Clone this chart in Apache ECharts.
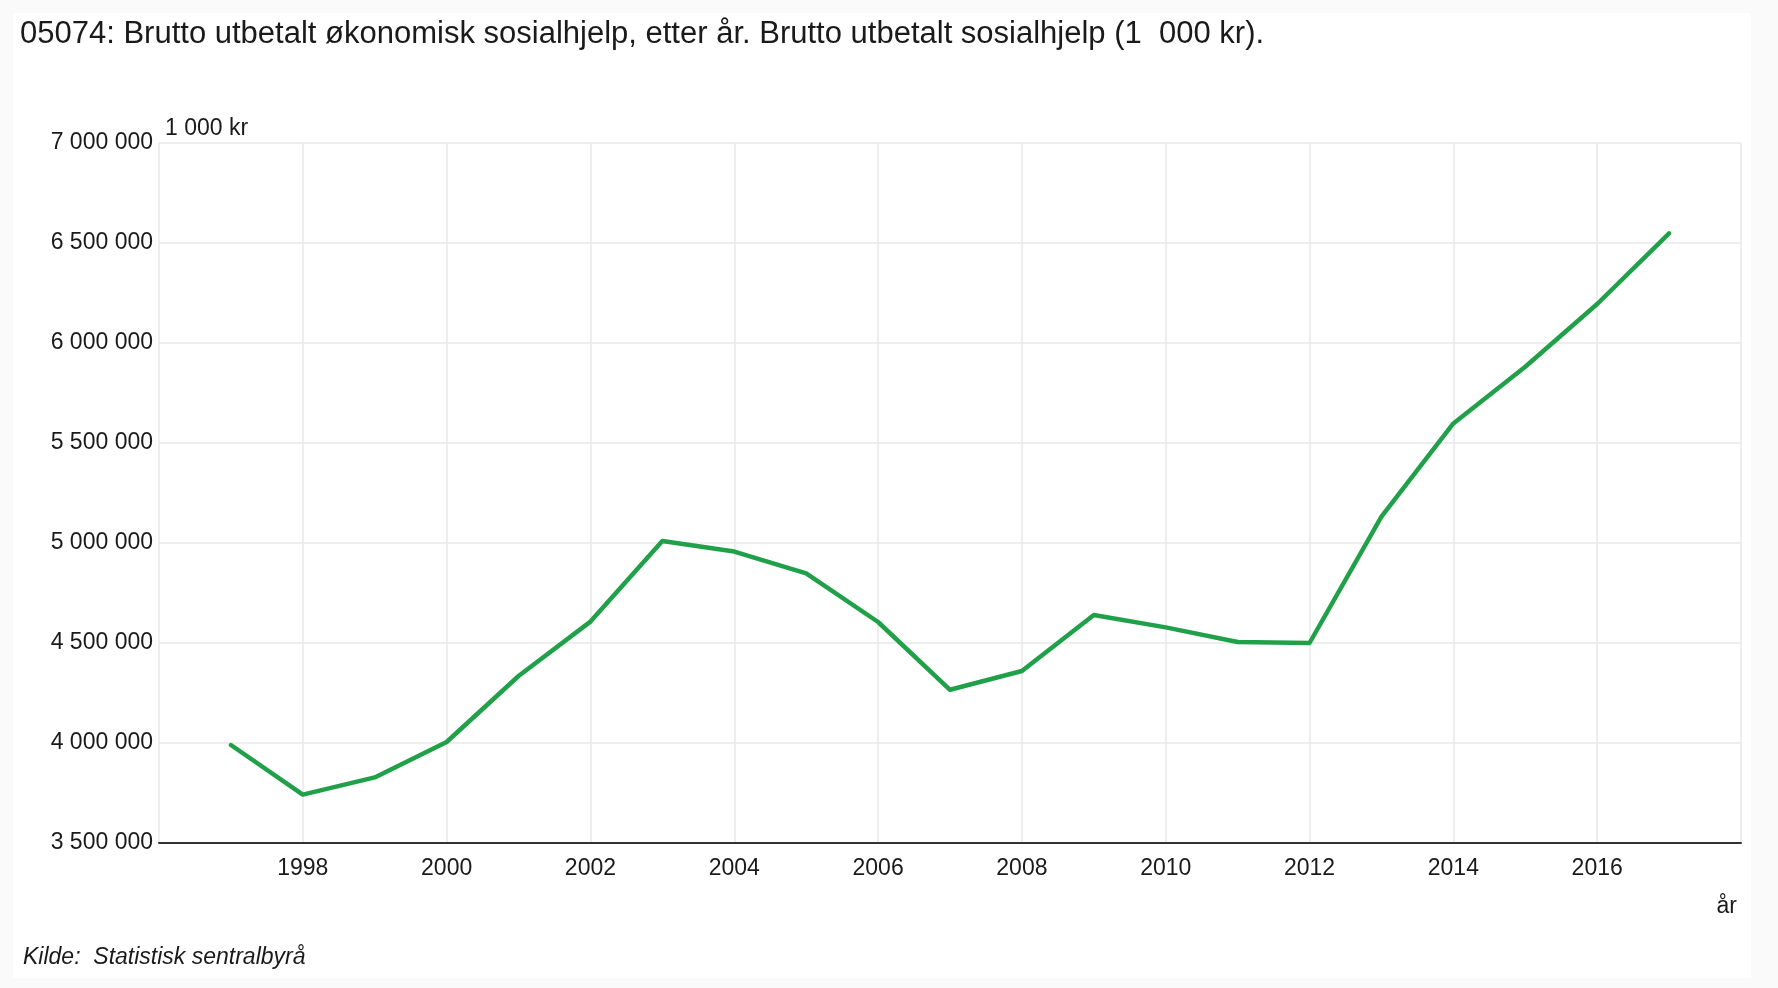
<!DOCTYPE html>
<html>
<head>
<meta charset="utf-8">
<script src="https://cdn.jsdelivr.net/npm/echarts@6/dist/echarts.min.js"></script>
<style>
  html, body { margin: 0; padding: 0; background: #fafafa; }
  #chart { width: 1778px; height: 988px; }
</style>
</head>
<body>
<div id="chart"></div>
<script>
// år
var years = [1997, 1998, 1999, 2000, 2001, 2002, 2003, 2004, 2005, 2006,
             2007, 2008, 2009, 2010, 2011, 2012, 2013, 2014, 2015, 2016, 2017];

// brutto utbetalt sosialhjelp, 1 000 kr (lest av bildet)
var values = [3990000, 3742000, 3828000, 4005000, 4335000, 4607000, 5010000,
              4957000, 4848000, 4605000, 4266000, 4360000, 4640000, 4578000,
              4505000, 4500000, 5132000, 5598000, 5881000, 6195000, 6548000];

var yTicks = [3500000, 4000000, 4500000, 5000000, 5500000, 6000000, 6500000, 7000000];
var xTicks = [1998, 2000, 2002, 2004, 2006, 2008, 2010, 2012, 2014, 2016];

var titleText = '05074: Brutto utbetalt økonomisk sosialhjelp, etter år. Brutto utbetalt sosialhjelp (1\u00a0 000 kr).';
var sourceText = 'Kilde:  Statistisk sentralbyrå';

var font = '"Liberation Sans", Arial, sans-serif';

function spaced(v) {
    return String(v).replace(/\B(?=(\d{3})+(?!\d))/g, ' ');
}

var data = [];
for (var i = 0; i < years.length; i++) {
    data.push([years[i], values[i]]);
}

var myChart = echarts.init(document.getElementById('chart'));

var option = {
    backgroundColor: '#fafafa',
    animation: false,
    textStyle: { fontFamily: font },
    graphic: [{
        type: 'rect',
        z: -10,
        silent: true,
        shape: { x: 13, y: 13, width: 1738, height: 965 },
        style: { fill: '#ffffff' }
    }],
    title: [{
        text: titleText,
        left: 20,
        top: 19,
        padding: 0,
        textStyle: { fontFamily: font, fontSize: 31, fontWeight: 'normal', color: '#1a1a1a' }
    }, {
        text: sourceText,
        left: 23,
        top: 946,
        padding: 0,
        textStyle: { fontFamily: font, fontSize: 23, fontStyle: 'italic', fontWeight: 'normal', color: '#1a1a1a' }
    }],
    grid: {
        left: 159,
        right: 37,
        top: 143,
        bottom: 145,
        containLabel: false
    },
    xAxis: {
        type: 'value',
        min: 1996,
        max: 2018,
        interval: 2,
        name: 'år',
        nameLocation: 'end',
        nameGap: 0,
        nameTextStyle: {
            fontFamily: font, fontSize: 23, color: '#1a1a1a',
            align: 'right', verticalAlign: 'top', padding: [52, 4, 0, 0]
        },
        axisLine: { show: true, lineStyle: { color: '#333333', width: 2 } },
        axisTick: { show: false },
        splitLine: { show: true, lineStyle: { color: '#e8e9ea', width: 1.5 } },
        axisLabel: {
            margin: 14,
            fontFamily: font,
            fontSize: 23,
            color: '#1a1a1a',
            formatter: function (v) {
                return xTicks.indexOf(v) >= 0 ? String(v) : '';
            }
        }
    },
    yAxis: {
        type: 'value',
        min: yTicks[0],
        max: yTicks[yTicks.length - 1],
        interval: 500000,
        name: '1 000 kr',
        nameLocation: 'end',
        nameGap: 14,
        nameTextStyle: {
            fontFamily: font, fontSize: 23, color: '#1a1a1a',
            align: 'left', verticalAlign: 'middle', padding: [0, 0, 0, 6]
        },
        axisLine: { show: false },
        axisTick: { show: false },
        splitLine: { show: true, lineStyle: { color: '#e8e9ea', width: 1.5 } },
        axisLabel: {
            margin: 6,
            fontFamily: font,
            fontSize: 23,
            color: '#1a1a1a',
            formatter: function (v) { return spaced(v); }
        }
    },
    series: [{
        name: 'Brutto utbetalt sosialhjelp',
        type: 'line',
        data: data,
        showSymbol: false,
        symbol: 'none',
        lineStyle: { color: '#21a04a', width: 4.5, cap: 'round', join: 'round' },
        itemStyle: { color: '#21a04a' },
        z: 5
    }]
};

myChart.setOption(option);
</script>
</body>
</html>
